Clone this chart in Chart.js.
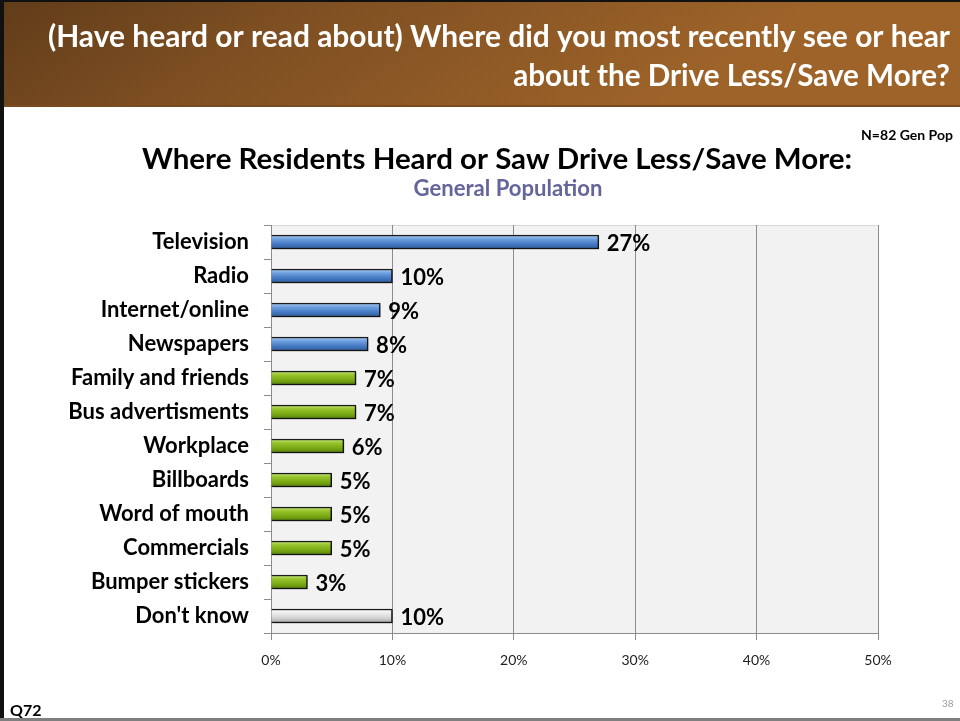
<!DOCTYPE html>
<html>
<head>
<meta charset="utf-8">
<script src="https://cdn.jsdelivr.net/npm/chart.js@4"></script>
<style>
  html, body { margin: 0; padding: 0; background: #fff; }
  #slide { display: block; }
</style>
</head>
<body>
<canvas id="slide" width="960" height="721"></canvas>
<script>
// Chart data
const categories = ['Television', 'Radio', 'Internet/online', 'Newspapers', 'Family and friends',
    'Bus advertisments', 'Workplace', 'Billboards', 'Word of mouth', 'Commercials',
    'Bumper stickers', "Don't know"];
const percentValues = [27, 10, 9, 8, 7, 7, 6, 5, 5, 5, 3, 10];
const barGroups = ['media', 'media', 'media', 'media', 'other', 'other', 'other', 'other',
    'other', 'other', 'other', 'unknown'];
const xTickValues = [0, 10, 20, 30, 40, 50];

const headerLines = ['(Have heard or read about) Where did you most recently see or hear',
    'about the Drive Less/Save More?'];
const chartTitle = 'Where Residents Heard or Saw Drive Less/Save More:';
const chartSubtitle = 'General Population';
const sampleNote = 'N=82 Gen Pop';
const questionId = 'Q72';
const pageNumber = '38';

const FONT = 'Lato, Carlito, "Open Sans", sans-serif';
Chart.defaults.font.family = FONT;

const gradientStops = {
    media: ['#a9cbf2', '#6d9fdf', '#4479c3', '#2d5b9b'],
    other: ['#c9e87a', '#94c22a', '#7aa914', '#557f08'],
    unknown: ['#ffffff', '#ececec', '#d2d2d2', '#a4a4a4']
};

// draw text with the font size picked so it spans the target width
function fitText(ctx, text, x, y, targetW, weight, align) {
    ctx.font = weight + ' 20px ' + FONT;
    const size = 20 * targetW / ctx.measureText(text).width;
    ctx.font = weight + ' ' + size.toFixed(2) + 'px ' + FONT;
    ctx.textAlign = align;
    ctx.fillText(text, x, y);
}

const slidePlugin = {
    id: 'slide',
    beforeDraw(chart) {
        const ctx = chart.ctx;
        const area = chart.chartArea;
        ctx.save();
        ctx.fillStyle = '#ffffff';
        ctx.fillRect(0, 0, chart.width, chart.height);

        // header band
        const hg = ctx.createLinearGradient(120, -200, 420, 260);
        hg.addColorStop(0, '#4f3114');
        hg.addColorStop(0.5, '#7e4f22');
        hg.addColorStop(1, '#9d6329');
        ctx.fillStyle = hg;
        ctx.fillRect(0, 0, chart.width, 107);
        ctx.fillStyle = '#7a4b1f';
        ctx.fillRect(0, 105, chart.width, 2);
        ctx.fillStyle = '#111';
        ctx.fillRect(0, 0, chart.width, 2);
        ctx.fillRect(0, 0, 4, chart.height);
        ctx.fillStyle = '#7f7f7f';
        ctx.fillRect(0, 718, chart.width, 3);

        ctx.fillStyle = '#ffffff';
        ctx.textBaseline = 'middle';
        fitText(ctx, headerLines[0], 950, 37, 902, 'bold', 'right');
        fitText(ctx, headerLines[1], 950, 76, 437, 'bold', 'right');

        // titles
        ctx.fillStyle = '#000';
        fitText(ctx, chartTitle, 497, 159, 710, 'bold', 'center');
        ctx.fillStyle = '#64659a';
        fitText(ctx, chartSubtitle, 508, 189, 189, 'bold', 'center');
        ctx.fillStyle = '#000';
        fitText(ctx, sampleNote, 953, 135, 92, 'bold', 'right');
        ctx.font = 'bold 16px ' + FONT;
        ctx.textAlign = 'left';
        ctx.fillText(questionId, 10, 711);
        ctx.fillStyle = '#9a9a9a';
        ctx.font = '10px ' + FONT;
        ctx.fillText(pageNumber, 942, 704);

        // plot background
        ctx.fillStyle = '#f2f2f2';
        ctx.fillRect(area.left, area.top, area.right - area.left, area.bottom - area.top);
        ctx.strokeStyle = '#d9d9d9';
        ctx.lineWidth = 1;
        ctx.beginPath();
        ctx.moveTo(area.left, area.top + 0.5);
        ctx.lineTo(area.right, area.top + 0.5);
        ctx.stroke();
        ctx.restore();
    },
    beforeDatasetsDraw(chart) {
        const ctx = chart.ctx;
        ctx.save();
        ctx.shadowColor = 'rgba(0,0,0,0.35)';
        ctx.shadowBlur = 3;
        ctx.shadowOffsetX = 2;
        ctx.shadowOffsetY = 2;
    },
    afterDatasetsDraw(chart) {
        const ctx = chart.ctx;
        ctx.restore();
        const meta = chart.getDatasetMeta(0);
        ctx.save();
        ctx.fillStyle = '#000';
        ctx.font = 'bold 22px ' + FONT;
        ctx.textAlign = 'left';
        ctx.textBaseline = 'middle';
        meta.data.forEach((bar, i) => {
            ctx.fillText(percentValues[i] + '%', bar.x + 8, bar.y + 2);
        });
        ctx.restore();
    }
};

function barFill(c) {
    const chart = c.chart;
    const stops = gradientStops[barGroups[c.dataIndex]] || gradientStops.media;
    if (!chart.chartArea || !chart.scales.y) return stops[2];
    const y = chart.scales.y.getPixelForValue(c.dataIndex);
    const g = chart.ctx.createLinearGradient(0, y - 7, 0, y + 7);
    g.addColorStop(0, stops[0]);
    g.addColorStop(0.3, stops[1]);
    g.addColorStop(0.65, stops[2]);
    g.addColorStop(1, stops[3]);
    return g;
}

new Chart(document.getElementById('slide'), {
    type: 'bar',
    data: {
        labels: categories,
        datasets: [{
            data: percentValues,
            backgroundColor: barFill,
            borderColor: '#1a1a1a',
            borderWidth: 1.5,
            borderSkipped: 'start',
            barThickness: 14
        }]
    },
    plugins: [slidePlugin],
    options: {
        indexAxis: 'y',
        responsive: false,
        animation: false,
        devicePixelRatio: 1,
        layout: { padding: { left: 0, right: 82, top: 225, bottom: 0 } },
        plugins: {
            legend: { display: false },
            tooltip: { enabled: false }
        },
        scales: {
            x: {
                min: 0,
                max: 50,
                afterFit: s => { s.height = 88; },
                afterBuildTicks: s => { s.ticks = xTickValues.map(v => ({ value: v })); },
                ticks: {
                    callback: v => v + '%',
                    color: '#222',
                    font: { size: 14 },
                    padding: 12,
                    maxRotation: 0
                },
                grid: { color: '#8c8c8c', tickLength: 7, lineWidth: 1 },
                border: { color: '#8c8c8c' }
            },
            y: {
                afterFit: s => { s.width = 271; },
                ticks: {
                    color: '#000',
                    font: { size: 22, weight: 'bold' },
                    padding: 15,
                    autoSkip: false
                },
                grid: { drawOnChartArea: false, tickLength: 7, color: '#8c8c8c', offset: true },
                border: { color: '#8c8c8c' }
            }
        }
    }
});
</script>
</body>
</html>
